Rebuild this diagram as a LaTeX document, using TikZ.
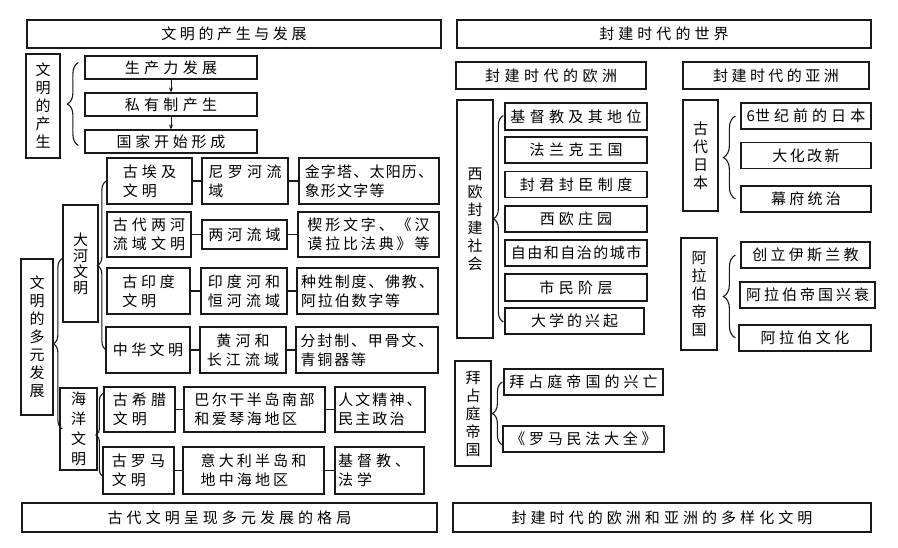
\documentclass[tikz,border=0pt]{standalone}
\usepackage{fontspec}
\setmainfont{Noto Sans CJK SC}
\usetikzlibrary{decorations.pathreplacing,calc,arrows.meta}
\tikzset{
  zh/.style={font=\fontsize{15}{19}\selectfont\addfontfeature{LetterSpace=#1}},
  zh/.default=27,
  vt/.style={font=\fontsize{15}{#1}\selectfont},
  vt/.default=18,
  box/.style={draw=black!90, line width=1.2pt, inner sep=0pt, align=center},
  ttl/.style={box, line width=1.6pt},
  link/.style={draw=black!90, line width=1.2pt},
  arr/.style={draw=black!90, line width=1pt, -{Stealth[length=5pt,width=4pt]}},
  brc/.style={draw=black!90, decorate, decoration={brace, amplitude=#1}, line width=1.1pt},
  brc/.default=10pt,
}
\begin{document}
\begin{tikzpicture}[x=1pt,y=-1pt]
\fill[white] (0,0) rectangle (898,547);
\useasboundingbox (0,0) rectangle (898,547);

% ---------- left half ----------
\node[ttl, zh=24, minimum width=414pt, minimum height=28pt] (t1) at (234,34) {文明的产生与发展};
\node[box, vt, minimum width=34pt, minimum height=104pt] (p0) at (43,106) {文\\明\\的\\产\\生};
\node[box, zh=29, minimum width=172pt, minimum height=23pt] (a1) at (171,67.5) {生产力发展};
\node[box, zh=29, minimum width=172pt, minimum height=23pt] (a2) at (171,104.5) {私有制产生};
\node[box, zh=25, minimum width=172pt, minimum height=23pt] (a3) at (171,141.5) {国家开始形成};

\node[box, vt, minimum width=32pt, minimum height=156pt] (d0) at (37,337) {文\\明\\的\\多\\元\\发\\展};
\node[box, vt=16, minimum width=35pt, minimum height=117pt] (h0) at (80.5,263.5) {大\\河\\文\\明};
\node[box, vt=20, minimum width=37pt, minimum height=82pt] (s0) at (78.5,429) {海\\洋\\文\\明};

\node[box, zh=27, align=left, minimum width=85pt, minimum height=46pt] (e1) at (149.5,181) {古埃及\\文明};
\node[box, zh=29, align=left, minimum width=86pt, minimum height=46pt] (e2) at (245,181) {尼罗河流\\域};
\node[box, zh=8, align=left, minimum width=140pt, minimum height=46pt] (e3) at (369,181) {金字塔、太阳历、\\象形文字等};

\node[box, zh=27, minimum width=84pt, minimum height=45pt] (m1) at (149,234.5) {古代两河\\流域文明};
\node[box, zh=27, minimum width=85pt, minimum height=29pt] (m2) at (244.5,234.5) {两河流域};
\node[box, zh=19, align=left, minimum width=141pt, minimum height=45pt] (m3) at (368.5,234.5) {楔形文字、《汉\\谟拉比法典》等};

\node[box, zh=25, align=left, minimum width=83pt, minimum height=46pt] (i1) at (148.5,291) {古印度\\文明};
\node[box, zh=27, align=left, minimum width=86pt, minimum height=46pt] (i2) at (244,291) {印度河和\\恒河流域};
\node[box, zh=12, align=left, minimum width=141pt, minimum height=46pt] (i3) at (367.5,291) {种姓制度、佛教、\\阿拉伯数字等};

\node[box, zh=23, minimum width=84pt, minimum height=46pt] (c1) at (148,350) {中华文明};
\node[box, zh=27, minimum width=86pt, minimum height=46pt] (c2) at (243,350) {黄河和\\长江流域};
\node[box, zh=12, align=left, minimum width=142pt, minimum height=46pt] (c3) at (367,350) {分封制、甲骨文、\\青铜器等};

\node[box, zh=27, align=left, minimum width=71pt, minimum height=45pt] (g1) at (139.5,409.5) {古希腊\\文明};
\node[box, zh=17, align=left, minimum width=141pt, minimum height=45pt] (g2) at (254.5,409.5) {巴尔干半岛南部\\和爱琴海地区};
\node[box, zh=14, align=left, minimum width=90pt, minimum height=45pt] (g3) at (380,409.5) {人文精神、\\民主政治};

\node[box, zh=27, align=left, minimum width=71pt, minimum height=47pt] (r1) at (138.5,470.5) {古罗马\\文明};
\node[box, zh=21, align=left, minimum width=141pt, minimum height=47pt] (r2) at (253.5,470.5) {意大利半岛和\\地中海地区};
\node[box, zh=27, align=left, text width=83pt, inner xsep=3pt, minimum width=89pt, minimum height=47pt] (r3) at (379.5,470.5) {基督教、\\法学};

\node[ttl, zh=27, minimum width=415pt, minimum height=29pt] (b1) at (229.5,517.5) {古代文明呈现多元发展的格局};

% ---------- right half ----------
\node[ttl, zh=27, minimum width=414pt, minimum height=28pt] (t2) at (664,34) {封建时代的世界};
\node[box, zh=30, minimum width=190pt, minimum height=27pt] (eu) at (551,75.5) {封建时代的欧洲};
\node[box, zh=23, minimum width=186pt, minimum height=27pt] (as) at (776,75.5) {封建时代的亚洲};

\node[box, vt, minimum width=36pt, minimum height=238pt] (w0) at (475,219) {西\\欧\\封\\建\\社\\会};
\node[box, zh=29, minimum width=142pt, minimum height=27pt] (w1) at (576,116.5) {基督教及其地位};
\node[box, zh=30, minimum width=142pt, minimum height=26pt] (w2) at (576,150) {法兰克王国};
\node[box, zh=30, minimum width=142pt, minimum height=26pt] (w3) at (576,184.5) {封君封臣制度};
\node[box, zh=27, minimum width=142pt, minimum height=26pt] (w4) at (576,219) {西欧庄园};
\node[box, zh=10, minimum width=142pt, minimum height=26pt] (w5) at (576,253) {自由和自治的城市};
\node[box, zh=29, minimum width=142pt, minimum height=27pt] (w6) at (576,287.5) {市民阶层};
\node[box, zh=20, minimum width=139pt, minimum height=26pt] (w7) at (574.5,321) {大学的兴起};

\node[box, vt, minimum width=35pt, minimum height=111pt] (j0) at (700.5,155.5) {古\\代\\日\\本};
\node[box, zh=27, minimum width=130pt, minimum height=26pt] (j1) at (806,116) {{\addfontfeature{LetterSpace=8}6}世纪前的日本};
\node[box, zh=16, minimum width=130pt, minimum height=26pt] (j2) at (806,155.5) {大化改新};
\node[box, zh=22, minimum width=130pt, minimum height=26pt] (j3) at (806,199) {幕府统治};

\node[box, vt, minimum width=36pt, minimum height=112pt] (k0) at (699,294) {阿\\拉\\伯\\帝\\国};
\node[box, zh=22, minimum width=129pt, minimum height=26pt] (k1) at (805.5,255) {创立伊斯兰教};
\node[box, zh=20, minimum width=135pt, minimum height=26pt] (k2) at (807.5,295) {阿拉伯帝国兴衰};
\node[box, zh=23, minimum width=132pt, minimum height=26pt] (k3) at (805,338) {阿拉伯文化};

\node[box, vt, minimum width=36pt, minimum height=105pt] (z0) at (473,413.5) {拜\\占\\庭\\帝\\国};
\node[box, zh=27, minimum width=159pt, minimum height=26pt] (z1) at (583.5,382) {拜占庭帝国的兴亡};
\node[box, zh=25, minimum width=161pt, minimum height=26pt] (z2) at (583.5,439) {《罗马民法大全》};

\node[ttl, zh=27, minimum width=418pt, minimum height=29pt] (b2) at (662,517.5) {封建时代的欧洲和亚洲的多样化文明};

% ---------- connectors ----------
\draw[arr] (a1) -- (a2);
\draw[arr] (a2) -- (a3);
\foreach \p/\q in {e1/e2,e2/e3,m1/m2,m2/m3,i1/i2,i2/i3,c1/c2,c2/c3,g1/g2,g2/g3,r1/r2,r2/r3}
  \draw[link] (\p) -- (\q);

% ---------- braces ----------
\draw[brc=11pt] ($(a3.west)+(-6,4)$) -- ($(a1.west)+(-6,-5)$);
\draw[brc=9pt] ($(e1.west |- c1.west)+(0,0)$) -- (e1.west);
\draw[brc=9pt] ($(h0.west |- s0.west)+(0,0)$) -- ($(h0.west)+(0,-5)$);
\draw[brc=7pt] ($(g1.west |- r1.west)+(-0.5,6)$) -- ($(g1.west)+(-0.5,-16)$);
\draw[brc=10pt] ($(w1.west |- w7.west)+(-1,1)$) -- ($(w1.west)+(-1,-1)$);
\draw[brc=12pt] ($(j1.west |- j3.west)+(-5,0)$) -- ($(j1.west)+(-5,0)$);
\draw[brc=12pt] ($(k1.west |- k3.west)+(-5,0)$) -- ($(k1.west)+(-5,0)$);
\draw[brc=10pt] ($(z1.west |- z2.west)+(-1,6)$) -- ($(z1.west)+(-1,0)$);
\end{tikzpicture}
\end{document}
